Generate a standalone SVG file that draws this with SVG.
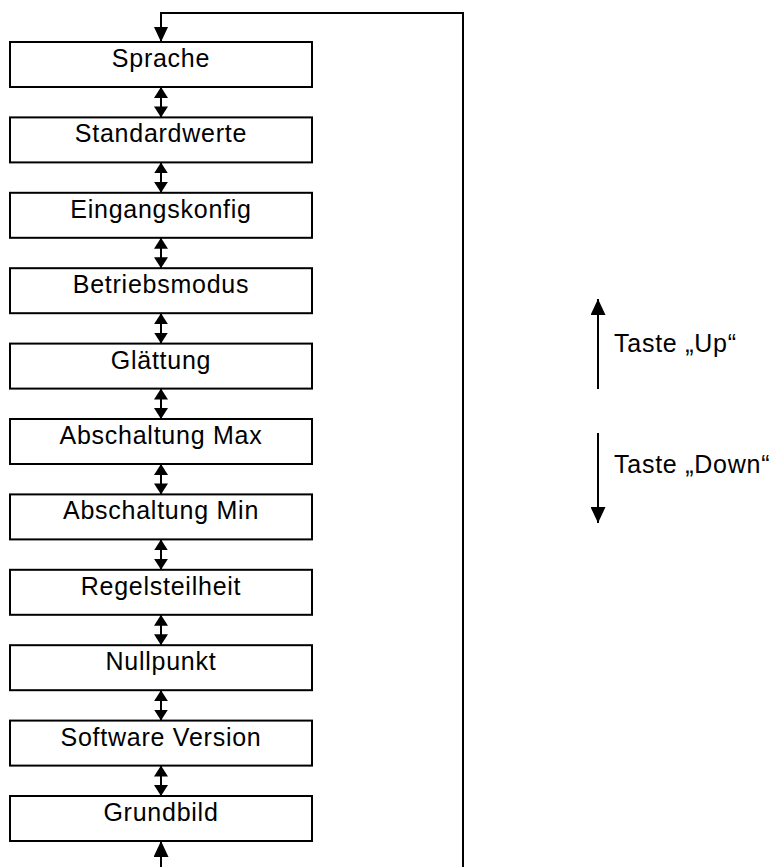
<svg xmlns="http://www.w3.org/2000/svg" width="774" height="867" viewBox="0 0 774 867">
<style>
.box rect{fill:#fff;stroke:#000;stroke-width:2}
text{font-family:"Liberation Sans",Arial,Helvetica,sans-serif;font-size:25px;letter-spacing:0.75px;fill:#000}
.box text{text-anchor:middle}
.con{fill:none;stroke:#000;stroke-width:2}
</style>
<defs>
<marker id="hs" markerUnits="userSpaceOnUse" markerWidth="11" markerHeight="14" refX="11" refY="7" orient="auto-start-reverse"><path d="M0,0 L11,7 L0,14 z" fill="#000"/></marker>
<marker id="hb" markerUnits="userSpaceOnUse" markerWidth="15" markerHeight="14" refX="15" refY="7" orient="auto-start-reverse"><path d="M0,0 L15,7 L0,14 z" fill="#000"/></marker>
<marker id="hl" markerUnits="userSpaceOnUse" markerWidth="16" markerHeight="15" refX="16" refY="7.5" orient="auto-start-reverse"><path d="M0,0 L16,7.5 L0,15 z" fill="#000"/></marker>
</defs>
<rect width="774" height="867" fill="#fff"/>
<g id="connectors">
<path class="con" d="M463,867 L463,13 L161,13 L161,42" marker-end="url(#hb)"/>
<path class="con" d="M161,867 L161,841" marker-end="url(#hl)"/>
<path class="con" d="M161,87 L161,117.4" marker-start="url(#hs)" marker-end="url(#hs)"/>
<path class="con" d="M161,162.4 L161,192.8" marker-start="url(#hs)" marker-end="url(#hs)"/>
<path class="con" d="M161,237.8 L161,268.2" marker-start="url(#hs)" marker-end="url(#hs)"/>
<path class="con" d="M161,313.2 L161,343.6" marker-start="url(#hs)" marker-end="url(#hs)"/>
<path class="con" d="M161,388.6 L161,419" marker-start="url(#hs)" marker-end="url(#hs)"/>
<path class="con" d="M161,464 L161,494.4" marker-start="url(#hs)" marker-end="url(#hs)"/>
<path class="con" d="M161,539.4 L161,569.8" marker-start="url(#hs)" marker-end="url(#hs)"/>
<path class="con" d="M161,614.8 L161,645.2" marker-start="url(#hs)" marker-end="url(#hs)"/>
<path class="con" d="M161,690.2 L161,720.6" marker-start="url(#hs)" marker-end="url(#hs)"/>
<path class="con" d="M161,765.6 L161,796" marker-start="url(#hs)" marker-end="url(#hs)"/>
</g>
<g id="n1" class="box"><rect x="10" y="42" width="302" height="45"/><text x="161" y="67">Sprache</text></g>
<g id="n2" class="box"><rect x="10" y="117.4" width="302" height="45"/><text x="161" y="142.4">Standardwerte</text></g>
<g id="n3" class="box"><rect x="10" y="192.8" width="302" height="45"/><text x="161" y="217.8">Eingangskonfig</text></g>
<g id="n4" class="box"><rect x="10" y="268.2" width="302" height="45"/><text x="161" y="293.2">Betriebsmodus</text></g>
<g id="n5" class="box"><rect x="10" y="343.6" width="302" height="45"/><text x="161" y="368.6">Glättung</text></g>
<g id="n6" class="box"><rect x="10" y="419" width="302" height="45"/><text x="161" y="444">Abschaltung Max</text></g>
<g id="n7" class="box"><rect x="10" y="494.4" width="302" height="45"/><text x="161" y="519.4">Abschaltung Min</text></g>
<g id="n8" class="box"><rect x="10" y="569.8" width="302" height="45"/><text x="161" y="594.8">Regelsteilheit</text></g>
<g id="n9" class="box"><rect x="10" y="645.2" width="302" height="45"/><text x="161" y="670.2">Nullpunkt</text></g>
<g id="n10" class="box"><rect x="10" y="720.6" width="302" height="45"/><text x="161" y="745.6">Software Version</text></g>
<g id="n11" class="box"><rect x="10" y="796" width="302" height="45"/><text x="161" y="821">Grundbild</text></g>
<g id="legend">
<path class="con" d="M598,389 L598,299" marker-end="url(#hl)"/>
<text x="614" y="352">Taste „Up“</text>
<path class="con" d="M598,433 L598,523" marker-end="url(#hl)"/>
<text x="614" y="473">Taste „Down“</text>
</g>
</svg>
